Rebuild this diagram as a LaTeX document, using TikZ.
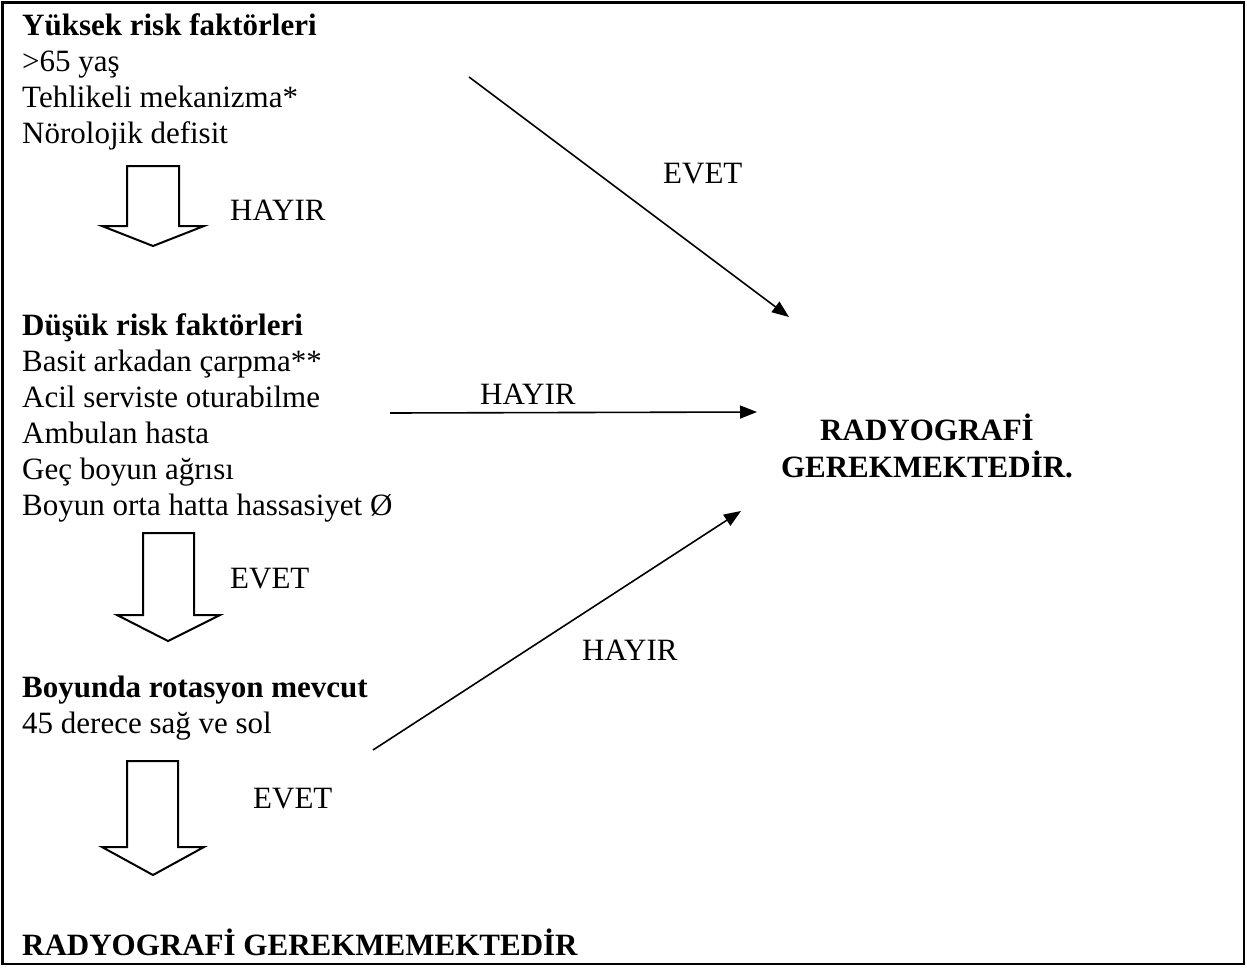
\documentclass[tikz,border=0pt]{standalone}
\usepackage{fontspec}
\setmainfont{Liberation Serif}
\usetikzlibrary{arrows.meta}
\tikzset{
  txt/.style={anchor=base west, inner sep=0pt, font=\fontsize{31}{36}\selectfont},
  btxt/.style={txt, font=\fontsize{31}{36}\selectfont\bfseries},
  ctxt/.style={anchor=base, inner sep=0pt, font=\fontsize{31}{36}\selectfont\bfseries},
  conn/.style={line width=1.6pt, -{Triangle[length=17pt,width=13pt]}},
  hollow/.style={line width=2pt, line join=miter},
  frame/.style={line width=2.5pt}
}
\begin{document}
\begin{tikzpicture}[x=1pt,y=-1pt]
\useasboundingbox (0,0) rectangle (1247,967);
\draw[frame] (2.5,2.5) rectangle (1244,964);

% top block
\node[btxt] (t1) at (22,35) {Yüksek risk faktörleri};
\node[txt] (t2) at (22,71) {>65 yaş};
\node[txt] (t3) at (22,107) {Tehlikeli mekanizma*};
\node[txt] (t4) at (22,143) {Nörolojik defisit};

% hollow arrow 1
\draw[hollow] (127,166) -- (179,166) -- (179,226) -- (204,226) -- (153,246) -- (102,226) -- (127,226) -- cycle;
\node[txt] (h1) at (230,220) {HAYIR};

% middle block
\node[btxt] (m1) at (22,335) {Düşük risk faktörleri};
\node[txt] (m2) at (22,371) {Basit arkadan çarpma**};
\node[txt] (m3) at (22,407) {Acil serviste oturabilme};
\node[txt] (m4) at (22,443) {Ambulan hasta};
\node[txt] (m5) at (22,479) {Geç boyun ağrısı};
\node[txt] (m6) at (22,515) {Boyun orta hatta hassasiyet Ø};

% hollow arrow 2
\draw[hollow] (143,533) -- (194,533) -- (194,615) -- (220,615) -- (168,641) -- (117,615) -- (143,615) -- cycle;
\node[txt] (e1) at (230,588) {EVET};

% lower block
\node[btxt] (l1) at (22,697) {Boyunda rotasyon mevcut};
\node[txt] (l2) at (22,733) {45 derece sağ ve sol};

% hollow arrow 3
\draw[hollow] (127,761) -- (178,761) -- (178,847) -- (204,847) -- (153,875) -- (102,847) -- (127,847) -- cycle;
\node[txt] (e2) at (253,808) {EVET};

% bottom result
\node[btxt] (res0) at (22,955) {RADYOGRAFİ GEREKMEMEKTEDİR};

% right result
\node[ctxt] (r1) at (927,440) {RADYOGRAFİ};
\node[ctxt] (r2) at (927,477) {GEREKMEKTEDİR.};

% connectors
\coordinate (a1s) at (469,77);
\coordinate (a1e) at (789,317);
\draw[conn] (a1s) -- (a1e);
\node[txt] (e0) at (663,183) {EVET};

\coordinate (a2s) at (390,413);
\coordinate (a2e) at (757,412);
\draw[conn] (a2s) -- (a2e);
\node[txt] (h2) at (480,404) {HAYIR};

\coordinate (a3s) at (373,750);
\coordinate (a3e) at (741,511);
\draw[conn] (a3s) -- (a3e);
\node[txt] (h3) at (582,660) {HAYIR};
\end{tikzpicture}
\end{document}
